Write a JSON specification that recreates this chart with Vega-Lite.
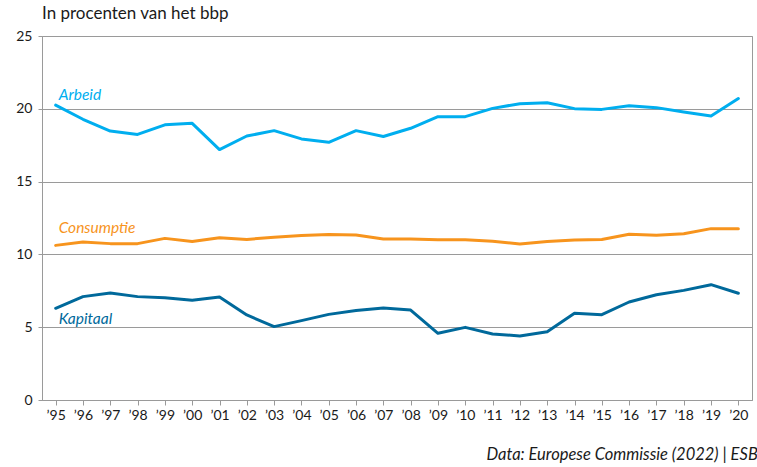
{
  "$schema": "https://vega.github.io/schema/vega-lite/v6.json",
  "width": 710,
  "height": 364,
  "autosize": {"type": "none"},
  "padding": {"left": 42, "top": 36, "right": 5, "bottom": 67},
  "background": "white",
  "config": {
    "font": "Lato",
    "view": {"stroke": "#9a9a9a", "strokeWidth": 1},
    "axis": {"labelFont": "Lato", "titleFont": "Lato"}
  },
  "title": {
    "text": "In procenten van het bbp",
    "anchor": "start",
    "frame": "group",
    "fontSize": 17,
    "fontWeight": "normal",
    "color": "#1a1a1a",
    "font": "Lato",
    "offset": 6
  },
  "datasets": {
    "reeksen": [
      {"jaar": 1995, "serie": "Arbeid", "waarde": 20.25},
      {"jaar": 1996, "serie": "Arbeid", "waarde": 19.28},
      {"jaar": 1997, "serie": "Arbeid", "waarde": 18.47},
      {"jaar": 1998, "serie": "Arbeid", "waarde": 18.24},
      {"jaar": 1999, "serie": "Arbeid", "waarde": 18.9},
      {"jaar": 2000, "serie": "Arbeid", "waarde": 19.0},
      {"jaar": 2001, "serie": "Arbeid", "waarde": 17.2},
      {"jaar": 2002, "serie": "Arbeid", "waarde": 18.13},
      {"jaar": 2003, "serie": "Arbeid", "waarde": 18.5},
      {"jaar": 2004, "serie": "Arbeid", "waarde": 17.93},
      {"jaar": 2005, "serie": "Arbeid", "waarde": 17.7},
      {"jaar": 2006, "serie": "Arbeid", "waarde": 18.5},
      {"jaar": 2007, "serie": "Arbeid", "waarde": 18.1},
      {"jaar": 2008, "serie": "Arbeid", "waarde": 18.66},
      {"jaar": 2009, "serie": "Arbeid", "waarde": 19.46},
      {"jaar": 2010, "serie": "Arbeid", "waarde": 19.46},
      {"jaar": 2011, "serie": "Arbeid", "waarde": 20.03},
      {"jaar": 2012, "serie": "Arbeid", "waarde": 20.35},
      {"jaar": 2013, "serie": "Arbeid", "waarde": 20.42},
      {"jaar": 2014, "serie": "Arbeid", "waarde": 20.01},
      {"jaar": 2015, "serie": "Arbeid", "waarde": 19.96},
      {"jaar": 2016, "serie": "Arbeid", "waarde": 20.21},
      {"jaar": 2017, "serie": "Arbeid", "waarde": 20.08},
      {"jaar": 2018, "serie": "Arbeid", "waarde": 19.78},
      {"jaar": 2019, "serie": "Arbeid", "waarde": 19.5},
      {"jaar": 2020, "serie": "Arbeid", "waarde": 20.7},
      {"jaar": 1995, "serie": "Consumptie", "waarde": 10.62},
      {"jaar": 1996, "serie": "Consumptie", "waarde": 10.85},
      {"jaar": 1997, "serie": "Consumptie", "waarde": 10.74},
      {"jaar": 1998, "serie": "Consumptie", "waarde": 10.74},
      {"jaar": 1999, "serie": "Consumptie", "waarde": 11.1},
      {"jaar": 2000, "serie": "Consumptie", "waarde": 10.88},
      {"jaar": 2001, "serie": "Consumptie", "waarde": 11.15},
      {"jaar": 2002, "serie": "Consumptie", "waarde": 11.03},
      {"jaar": 2003, "serie": "Consumptie", "waarde": 11.17},
      {"jaar": 2004, "serie": "Consumptie", "waarde": 11.29},
      {"jaar": 2005, "serie": "Consumptie", "waarde": 11.36},
      {"jaar": 2006, "serie": "Consumptie", "waarde": 11.33},
      {"jaar": 2007, "serie": "Consumptie", "waarde": 11.06},
      {"jaar": 2008, "serie": "Consumptie", "waarde": 11.06},
      {"jaar": 2009, "serie": "Consumptie", "waarde": 11.01},
      {"jaar": 2010, "serie": "Consumptie", "waarde": 11.01},
      {"jaar": 2011, "serie": "Consumptie", "waarde": 10.9},
      {"jaar": 2012, "serie": "Consumptie", "waarde": 10.71},
      {"jaar": 2013, "serie": "Consumptie", "waarde": 10.88},
      {"jaar": 2014, "serie": "Consumptie", "waarde": 10.99},
      {"jaar": 2015, "serie": "Consumptie", "waarde": 11.03},
      {"jaar": 2016, "serie": "Consumptie", "waarde": 11.38},
      {"jaar": 2017, "serie": "Consumptie", "waarde": 11.31},
      {"jaar": 2018, "serie": "Consumptie", "waarde": 11.42},
      {"jaar": 2019, "serie": "Consumptie", "waarde": 11.77},
      {"jaar": 2020, "serie": "Consumptie", "waarde": 11.77},
      {"jaar": 1995, "serie": "Kapitaal", "waarde": 6.3},
      {"jaar": 1996, "serie": "Kapitaal", "waarde": 7.1},
      {"jaar": 1997, "serie": "Kapitaal", "waarde": 7.35},
      {"jaar": 1998, "serie": "Kapitaal", "waarde": 7.1},
      {"jaar": 1999, "serie": "Kapitaal", "waarde": 7.03},
      {"jaar": 2000, "serie": "Kapitaal", "waarde": 6.85},
      {"jaar": 2001, "serie": "Kapitaal", "waarde": 7.07},
      {"jaar": 2002, "serie": "Kapitaal", "waarde": 5.84},
      {"jaar": 2003, "serie": "Kapitaal", "waarde": 5.04},
      {"jaar": 2004, "serie": "Kapitaal", "waarde": 5.45},
      {"jaar": 2005, "serie": "Kapitaal", "waarde": 5.88},
      {"jaar": 2006, "serie": "Kapitaal", "waarde": 6.14},
      {"jaar": 2007, "serie": "Kapitaal", "waarde": 6.32},
      {"jaar": 2008, "serie": "Kapitaal", "waarde": 6.18},
      {"jaar": 2009, "serie": "Kapitaal", "waarde": 4.58},
      {"jaar": 2010, "serie": "Kapitaal", "waarde": 4.99},
      {"jaar": 2011, "serie": "Kapitaal", "waarde": 4.53},
      {"jaar": 2012, "serie": "Kapitaal", "waarde": 4.4},
      {"jaar": 2013, "serie": "Kapitaal", "waarde": 4.69},
      {"jaar": 2014, "serie": "Kapitaal", "waarde": 5.95},
      {"jaar": 2015, "serie": "Kapitaal", "waarde": 5.86},
      {"jaar": 2016, "serie": "Kapitaal", "waarde": 6.73},
      {"jaar": 2017, "serie": "Kapitaal", "waarde": 7.23},
      {"jaar": 2018, "serie": "Kapitaal", "waarde": 7.53},
      {"jaar": 2019, "serie": "Kapitaal", "waarde": 7.92},
      {"jaar": 2020, "serie": "Kapitaal", "waarde": 7.33}
    ]
  },
  "data": {"name": "reeksen"},
  "encoding": {
    "x": {
      "field": "jaar",
      "type": "quantitative",
      "scale": {"domain": [1994.5, 2020.5], "nice": false, "zero": false},
      "axis": {
        "values": [1995,1996,1997,1998,1999,2000,2001,2002,2003,2004,2005,2006,2007,2008,2009,2010,2011,2012,2013,2014,2015,2016,2017,2018,2019,2020],
        "labelExpr": "'’' + slice(toString(datum.value), 2)",
        "grid": false,
        "domainColor": "#9a9a9a",
        "tickColor": "#9a9a9a",
        "tickSize": 5,
        "labelFontSize": 14,
        "labelColor": "#1a1a1a",
        "labelPadding": 3,
        "labelAngle": 0,
        "labelFlush": false,
        "title": "Data: Europese Commissie (2022) | ESB",
        "titleFontSize": 16.5,
        "titleFontStyle": "italic",
        "titleFontWeight": "normal",
        "titleColor": "#1a1a1a",
        "titleAnchor": "start",
        "titleAlign": "left",
        "titleBaseline": "alphabetic",
        "titleX": 444,
        "titleY": 59
      }
    },
    "y": {
      "field": "waarde",
      "type": "quantitative",
      "scale": {"domain": [0, 25], "nice": false},
      "axis": {
        "values": [0, 5, 10, 15, 20, 25],
        "grid": true,
        "gridColor": "#9a9a9a",
        "gridWidth": 1,
        "domainColor": "#9a9a9a",
        "tickColor": "#9a9a9a",
        "tickSize": 4,
        "labelFontSize": 14,
        "labelColor": "#1a1a1a",
        "labelPadding": 6,
        "title": null
      }
    },
    "color": {
      "field": "serie",
      "type": "nominal",
      "scale": {"domain": ["Arbeid", "Consumptie", "Kapitaal"], "range": ["#00aeef", "#f7941d", "#00699b"]},
      "legend": null
    }
  },
  "layer": [
    {
      "mark": {"type": "line", "strokeWidth": 3, "strokeJoin": "round", "strokeCap": "round"}
    },
    {
      "transform": [{"filter": "datum.jaar == 1995 && datum.serie == 'Arbeid'"}],
      "mark": {"type": "text", "align": "left", "baseline": "alphabetic", "dx": 3, "dy": -5, "fontSize": 15.5, "fontStyle": "italic", "font": "Lato"},
      "encoding": {"text": {"field": "serie"}}
    },
    {
      "transform": [{"filter": "datum.jaar == 1995 && datum.serie == 'Consumptie'"}],
      "mark": {"type": "text", "align": "left", "baseline": "alphabetic", "dx": 3, "dy": -12, "fontSize": 15.5, "fontStyle": "italic", "font": "Lato"},
      "encoding": {"text": {"field": "serie"}}
    },
    {
      "transform": [{"filter": "datum.jaar == 1995 && datum.serie == 'Kapitaal'"}],
      "mark": {"type": "text", "align": "left", "baseline": "alphabetic", "dx": 3, "dy": 16, "fontSize": 15.5, "fontStyle": "italic", "font": "Lato"},
      "encoding": {"text": {"field": "serie"}}
    }
  ]
}
